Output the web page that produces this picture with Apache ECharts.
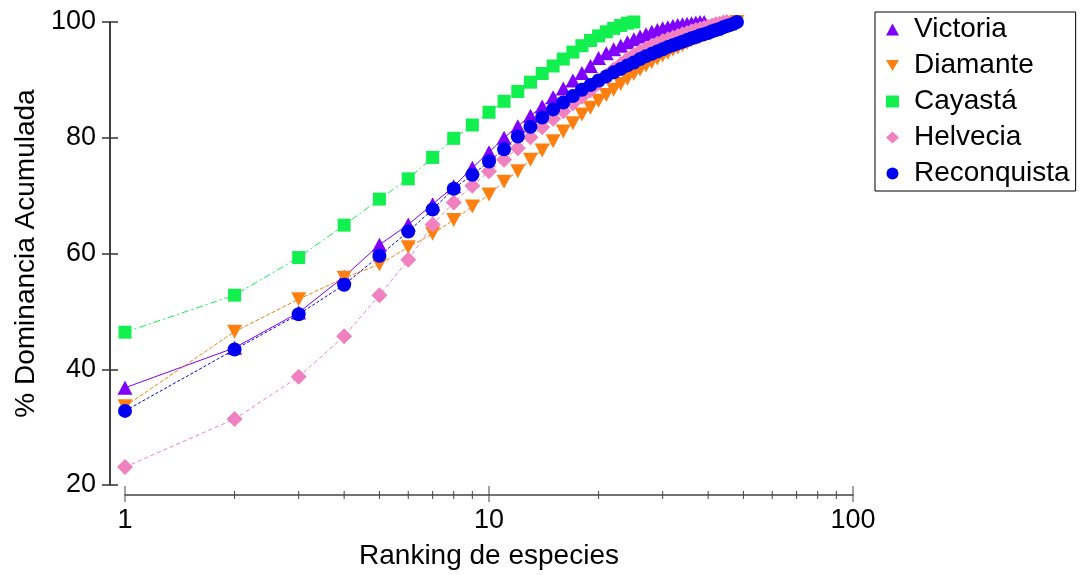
<!DOCTYPE html>
<html>
<head>
<meta charset="utf-8">
<script src="https://cdn.jsdelivr.net/npm/echarts@6/dist/echarts.min.js"></script>
<style>
  html, body { margin: 0; padding: 0; background: #fff; }
  #chart { width: 1080px; height: 575px; }
</style>
</head>
<body>
<div id="chart"></div>
<script>
// Cumulative dominance (%) by species rank, one list per site (rank = position + 1)
const victoria = [36.8, 43.7, 49.8, 56.0, 61.5, 65.0, 68.5, 71.6, 74.8, 77.5,
  80.0, 82.0, 83.8, 85.4, 87.0, 88.5, 89.9, 91.2, 92.4, 93.8,
  94.6, 95.3, 95.9, 96.5, 97.0, 97.5, 97.9, 98.3, 98.6, 98.9,
  99.1, 99.3, 99.5, 99.6, 99.7, 99.8, 99.9, 100.0, 100.0];

const diamante = [33.6, 46.5, 52.1, 55.8, 58.1, 61.1, 63.4, 65.8, 68.1, 70.2,
  72.4, 74.2, 76.2, 77.8, 79.4, 81.1, 82.5, 84.0, 85.2, 86.4,
  87.4, 88.3, 89.3, 90.2, 91.0, 91.8, 92.5, 93.1, 93.7, 94.2,
  94.7, 95.2, 95.6, 96.0, 96.4, 96.8, 97.1, 97.4, 97.7, 98.0,
  98.3, 98.6, 98.8, 99.1, 99.3, 99.6, 99.8, 100.0];

const cayasta = [46.4, 52.8, 59.3, 64.9, 69.4, 72.9, 76.6, 79.9, 82.2, 84.4,
  86.3, 88.0, 89.6, 91.1, 92.4, 93.6, 94.8, 95.9, 96.8, 97.6,
  98.3, 98.9, 99.4, 99.8, 100.0];

const helvecia = [23.1, 31.4, 38.7, 45.7, 52.8, 58.9, 65.0, 68.8, 71.7, 74.2,
  76.2, 78.2, 80.1, 81.8, 83.3, 84.6, 85.9, 87.1, 88.2, 89.5,
  90.7, 91.8, 92.7, 93.6, 94.3, 94.9, 95.4, 95.9, 96.3, 96.7,
  97.0, 97.3, 97.6, 97.9, 98.1, 98.4, 98.6, 98.8, 99.0, 99.2,
  99.4, 99.6, 99.7, 99.9, 100.0];

const reconquista = [32.8, 43.4, 49.5, 54.6, 59.6, 63.8, 67.6, 71.2, 73.6, 75.9,
  78.0, 80.2, 81.9, 83.5, 84.9, 86.1, 87.2, 88.3, 89.1, 89.9,
  90.6, 91.3, 91.9, 92.5, 93.0, 93.6, 94.1, 94.5, 94.9, 95.3,
  95.7, 96.0, 96.3, 96.6, 96.9, 97.2, 97.4, 97.7, 97.9, 98.1,
  98.4, 98.6, 98.8, 99.1, 99.3, 99.5, 99.7, 100.0];

// Log-axis tick positions
const majorTicks = [1, 10, 100];
const minorTicks = [2, 3, 4, 5, 6, 7, 8, 9, 20, 30, 40, 50, 60, 70, 80, 90];

const seriesNames = ['Victoria', 'Diamante', 'Cayastá', 'Helvecia', 'Reconquista'];

const FONT = '"Liberation Sans", Arial, sans-serif';
const X_OFFSET = 10;
const downTri = 'path://M0,0L20,0L10,17Z';

const toPairs = arr => arr.map((v, i) => [i + 1, v]);

const chart = echarts.init(document.getElementById('chart'), null, { renderer: 'canvas' });

function lineSeries(name, values, color, symbol, size, dash) {
  return {
    name: name,
    type: 'line',
    data: toPairs(values),
    symbol: symbol,
    symbolSize: size,
    showSymbol: true,
    clip: false,
    itemStyle: { color: color, opacity: 1 },
    lineStyle: { color: color, width: 1, type: dash },
    emphasis: { disabled: true }
  };
}

function tickSeries(values, up, down) {
  return {
    type: 'custom',
    silent: true,
    clip: false,
    data: values.map(v => [v, 20]),
    encode: { x: 0, y: 1 },
    renderItem: function (params, api) {
      const p = api.coord([api.value(0), api.value(1)]);
      const y = p[1] + X_OFFSET;
      return {
        type: 'line',
        shape: { x1: p[0], y1: y - up, x2: p[0], y2: y + down },
        style: { stroke: '#444', lineWidth: 1 }
      };
    }
  };
}

chart.setOption({
  animation: false,
  backgroundColor: '#fff',
  grid: { left: 125, right: 227, top: 22, bottom: 86, containLabel: false },
  legend: {
    orient: 'vertical',
    left: 875,
    top: 12,
    padding: [3, 6, 3, 11],
    itemGap: 7,
    itemWidth: 13,
    itemHeight: 12,
    borderColor: '#000',
    borderWidth: 1,
    selectedMode: false,
    textStyle: { fontFamily: FONT, fontSize: 28, color: '#000', lineHeight: 29, padding: [0, 0, 0, 10] },
    data: [
      { name: 'Victoria', icon: 'triangle' },
      { name: 'Diamante', icon: downTri },
      { name: 'Cayastá', icon: 'rect' },
      { name: 'Helvecia', icon: 'diamond' },
      { name: 'Reconquista', icon: 'circle' }
    ]
  },
  xAxis: {
    type: 'log',
    logBase: 10,
    min: 1,
    max: 100,
    offset: X_OFFSET,
    axisLine: { show: true, lineStyle: { color: '#444', width: 1.5 } },
    axisTick: { show: false },
    minorTick: { show: false },
    splitLine: { show: false },
    axisLabel: { fontFamily: FONT, fontSize: 27, color: '#000', margin: 12 },
    name: 'Ranking de especies',
    nameLocation: 'middle',
    nameGap: 47,
    nameTextStyle: { fontFamily: FONT, fontSize: 28, color: '#000' }
  },
  yAxis: [{
    type: 'value',
    min: 20,
    max: 100,
    interval: 20,
    offset: 15,
    axisLine: { show: true, lineStyle: { color: '#000', width: 1.5 } },
    axisTick: { show: true, length: 8, lineStyle: { color: '#333', width: 1.5 } },
    splitLine: { show: false },
    axisLabel: { fontFamily: FONT, fontSize: 27, color: '#000', margin: 14 },
    name: '% Dominancia Acumulada',
    nameLocation: 'middle',
    nameGap: 70,
    nameTextStyle: { fontFamily: FONT, fontSize: 28, color: '#000' }
  }, {
    type: 'value',
    position: 'left',
    min: 20,
    max: 100,
    interval: 20,
    offset: 15,
    axisLine: { show: false },
    axisTick: { show: true, inside: true, length: 8, lineStyle: { color: '#333', width: 1.5 } },
    axisLabel: { show: false },
    splitLine: { show: false }
  }],
  series: [
    lineSeries(seriesNames[0], victoria, '#7F00FF', 'triangle', [15, 14], 'solid'),
    lineSeries(seriesNames[1], diamante, '#FF8010', downTri, [15, 14], [4, 2]),
    lineSeries(seriesNames[2], cayasta, '#12F050', 'rect', 13, [7, 3, 2, 3]),
    lineSeries(seriesNames[3], helvecia, '#F080C0', 'diamond', [16, 16], [4, 3]),
    lineSeries(seriesNames[4], reconquista, '#0000F0', 'circle', 14, [3, 2]),
    tickSeries(majorTicks, 9, 7),
    tickSeries(minorTicks, 4, 4)
  ]
});
</script>
</body>
</html>
